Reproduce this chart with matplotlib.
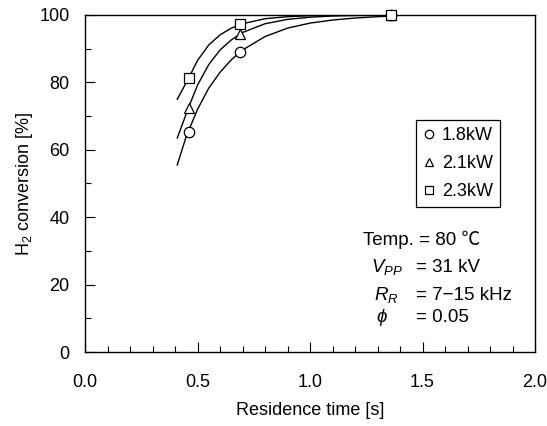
import numpy as np
import matplotlib
matplotlib.use("Agg")
import matplotlib.pyplot as plt
from matplotlib.ticker import MultipleLocator

plt.rcParams['font.family'] = ['Liberation Sans', 'Noto Sans CJK JP', 'DejaVu Sans']
plt.rcParams['mathtext.fontset'] = 'custom'
plt.rcParams['mathtext.rm'] = 'Liberation Sans'
plt.rcParams['mathtext.it'] = 'Liberation Sans:italic'

# measured points
labels = ["1.8kW", "2.1kW", "2.3kW"]
markers = ["o", "^", "s"]
time_pts = [0.46, 0.69, 1.36]
conv_18 = [65.4, 89.1, 100.0]
conv_21 = [72.5, 94.4, 100.0]
conv_23 = [81.2, 97.2, 100.0]

# fitted curves
curve_x_18 = [0.41, 0.45, 0.50, 0.55, 0.60, 0.65, 0.70, 0.80, 0.90, 1.00, 1.10, 1.20, 1.30, 1.37]
curve_y_18 = [55.5, 64.0, 72.0, 78.3, 83.0, 86.7, 89.6, 93.6, 96.1, 97.6, 98.5, 99.1, 99.5, 99.7]
curve_x_21 = [0.41, 0.46, 0.50, 0.55, 0.60, 0.65, 0.70, 0.80, 0.90, 1.00, 1.10, 1.20, 1.37]
curve_y_21 = [63.5, 72.5, 79.2, 85.3, 89.6, 92.6, 94.8, 97.4, 98.7, 99.35, 99.7, 99.85, 99.95]
curve_x_23 = [0.41, 0.46, 0.50, 0.55, 0.60, 0.65, 0.70, 0.80, 0.90, 1.00, 1.20, 1.37]
curve_y_23 = [75.0, 81.2, 86.5, 91.1, 94.1, 96.1, 97.4, 98.9, 99.5, 99.8, 99.95, 100.0]

fig = plt.figure(figsize=(5.47, 4.26), dpi=100)
ax = fig.add_axes([0.1554, 0.1737, 0.8227, 0.7911])

for cx, cy in [(curve_x_18, curve_y_18), (curve_x_21, curve_y_21), (curve_x_23, curve_y_23)]:
    ax.plot(cx, cy, color="black", lw=1.0, zorder=2)

handles = []
for vals, m, lab in zip([conv_18, conv_21, conv_23], markers, labels):
    h, = ax.plot(time_pts, vals, linestyle="none", marker=m, markersize=7.5,
                 markerfacecolor="white", markeredgecolor="black", markeredgewidth=0.9,
                 label=lab, zorder=3, clip_on=False)
    handles.append(h)

ax.set_xlim(0, 2.0)
ax.set_ylim(0, 100)
ax.xaxis.set_major_locator(MultipleLocator(0.5))
ax.xaxis.set_minor_locator(MultipleLocator(0.1))
ax.yaxis.set_major_locator(MultipleLocator(20))
ax.yaxis.set_minor_locator(MultipleLocator(10))
ax.set_xticklabels([f"{v:.1f}" for v in ax.get_xticks()])
ax.tick_params(which="both", direction="in", top=False, right=False, labelsize=13, width=0.8)
ax.tick_params(which="major", length=7)
ax.tick_params(axis="x", which="major", pad=16)
ax.tick_params(axis="y", which="major", pad=11)
ax.tick_params(which="minor", length=4)
for s in ax.spines.values():
    s.set_linewidth(1.0)

ax.set_xlabel("Residence time [s]", fontsize=13, labelpad=8)
ax.set_ylabel("H$_2$ conversion [%]", fontsize=13, labelpad=3)

leg = ax.legend(handles=handles, loc="upper right", bbox_to_anchor=(0.922, 0.688),
                fontsize=13, frameon=True, fancybox=False, edgecolor="black",
                framealpha=1, handlelength=0.7, handletextpad=0.35, borderpad=0.4,
                labelspacing=0.6, borderaxespad=0, markerscale=0.8)
leg.get_frame().set_linewidth(0.9)

fs = 13.5
ax.text(1.235, 33.2, "Temp. = 80 \u2103", fontsize=fs, va="center")
ax.text(1.27, 25.2, "$V_{PP}$", fontsize=fs, va="center")
ax.text(1.283, 16.9, "$R_{R}$", fontsize=fs, va="center")
ax.text(1.292, 10.1, "$\\phi$", fontsize=fs, va="center")
ax.text(1.473, 25.2, "= 31 kV", fontsize=fs, va="center")
ax.text(1.473, 16.9, "= 7\u221215 kHz", fontsize=fs, va="center")
ax.text(1.473, 10.1, "= 0.05", fontsize=fs, va="center")

fig.savefig("out.png", dpi=100)
